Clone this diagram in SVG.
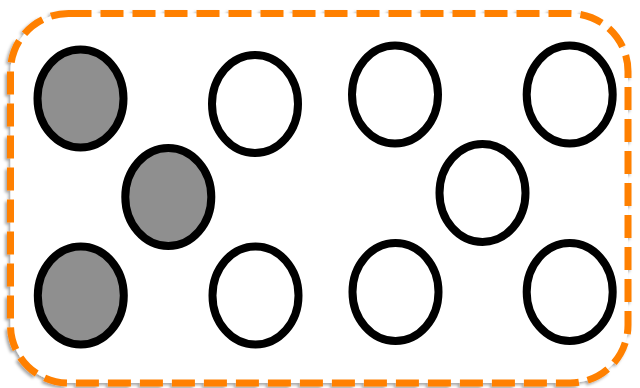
<svg xmlns="http://www.w3.org/2000/svg" width="640" height="388" viewBox="0 0 640 388">
  <defs>
    <filter id="shadow" x="-5%" y="-5%" width="110%" height="110%">
      <feDropShadow dx="-2" dy="2" stdDeviation="1.5" flood-color="#000000" flood-opacity="0.35"/>
    </filter>
    <style>
      .frame { fill: #ffffff; stroke: #ff8000; stroke-width: 7; stroke-dasharray: 23 9; }
      .node { stroke: #000000; stroke-width: 8; }
      .grey { fill: #8f8f8f; }
      .white { fill: #ffffff; }
    </style>
  </defs>
  <rect width="640" height="388" fill="#ffffff"/>
  <g id="frame">
    <rect class="frame" x="10.5" y="13.5" width="617.5" height="369.5" rx="58" ry="58" filter="url(#shadow)"/>
  </g>
  <g id="connectors"></g>
  <g id="node-g1"><ellipse class="node grey" cx="80.5" cy="98.5" rx="43" ry="49"/></g>
  <g id="node-g2"><ellipse class="node grey" cx="168.3" cy="197" rx="43" ry="49"/></g>
  <g id="node-g3"><ellipse class="node grey" cx="80.8" cy="295.5" rx="43" ry="49"/></g>
  <g id="node-w1"><ellipse class="node white" cx="255" cy="104" rx="43" ry="49"/></g>
  <g id="node-w2"><ellipse class="node white" cx="395" cy="94.5" rx="43" ry="49"/></g>
  <g id="node-w3"><ellipse class="node white" cx="569.7" cy="94.5" rx="43" ry="49"/></g>
  <g id="node-w4"><ellipse class="node white" cx="482.5" cy="193" rx="43" ry="49"/></g>
  <g id="node-w5"><ellipse class="node white" cx="255.5" cy="295.5" rx="43" ry="49"/></g>
  <g id="node-w6"><ellipse class="node white" cx="395.5" cy="292" rx="43" ry="49"/></g>
  <g id="node-w7"><ellipse class="node white" cx="569.7" cy="292" rx="43" ry="49"/></g>
</svg>
